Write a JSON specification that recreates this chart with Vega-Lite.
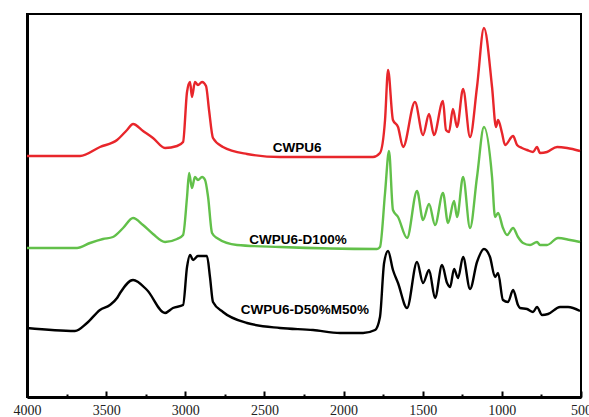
{
  "$schema": "https://vega.github.io/schema/vega-lite/v6.json",
  "width": 554,
  "height": 383,
  "autosize": "none",
  "padding": {"left": 27, "top": 14, "right": 8, "bottom": 20},
  "background": "white",
  "config": {"view": {"stroke": "black", "strokeWidth": 2}},
  "datasets": {
    "spectra": [
      {"s": "CWPU6", "wn": 4000, "v": 241}, {"s": "CWPU6", "wn": 3665, "v": 241}, {"s": "CWPU6", "wn": 3539, "v": 250}, {"s": "CWPU6", "wn": 3431, "v": 257}, {"s": "CWPU6", "wn": 3368, "v": 267}, {"s": "CWPU6", "wn": 3330, "v": 273}, {"s": "CWPU6", "wn": 3267, "v": 266}, {"s": "CWPU6", "wn": 3204, "v": 259}, {"s": "CWPU6", "wn": 3128, "v": 249}, {"s": "CWPU6", "wn": 3052, "v": 251}, {"s": "CWPU6", "wn": 3014, "v": 255}, {"s": "CWPU6", "wn": 2989, "v": 305}, {"s": "CWPU6", "wn": 2970, "v": 315}, {"s": "CWPU6", "wn": 2958, "v": 300}, {"s": "CWPU6", "wn": 2939, "v": 315}, {"s": "CWPU6", "wn": 2920, "v": 312}, {"s": "CWPU6", "wn": 2894, "v": 315}, {"s": "CWPU6", "wn": 2869, "v": 311}, {"s": "CWPU6", "wn": 2850, "v": 287}, {"s": "CWPU6", "wn": 2825, "v": 259}, {"s": "CWPU6", "wn": 2762, "v": 250}, {"s": "CWPU6", "wn": 2610, "v": 243}, {"s": "CWPU6", "wn": 2402, "v": 240}, {"s": "CWPU6", "wn": 1978, "v": 240}, {"s": "CWPU6", "wn": 1814, "v": 240}, {"s": "CWPU6", "wn": 1770, "v": 244}, {"s": "CWPU6", "wn": 1738, "v": 277}, {"s": "CWPU6", "wn": 1719, "v": 327}, {"s": "CWPU6", "wn": 1688, "v": 277}, {"s": "CWPU6", "wn": 1656, "v": 270}, {"s": "CWPU6", "wn": 1624, "v": 250}, {"s": "CWPU6", "wn": 1549, "v": 295}, {"s": "CWPU6", "wn": 1498, "v": 262}, {"s": "CWPU6", "wn": 1460, "v": 283}, {"s": "CWPU6", "wn": 1429, "v": 262}, {"s": "CWPU6", "wn": 1372, "v": 296}, {"s": "CWPU6", "wn": 1353, "v": 267}, {"s": "CWPU6", "wn": 1334, "v": 265}, {"s": "CWPU6", "wn": 1309, "v": 288}, {"s": "CWPU6", "wn": 1283, "v": 270}, {"s": "CWPU6", "wn": 1245, "v": 308}, {"s": "CWPU6", "wn": 1201, "v": 260}, {"s": "CWPU6", "wn": 1157, "v": 310}, {"s": "CWPU6", "wn": 1113, "v": 369}, {"s": "CWPU6", "wn": 1062, "v": 310}, {"s": "CWPU6", "wn": 1037, "v": 270}, {"s": "CWPU6", "wn": 1024, "v": 277}, {"s": "CWPU6", "wn": 999, "v": 264}, {"s": "CWPU6", "wn": 980, "v": 252}, {"s": "CWPU6", "wn": 929, "v": 261}, {"s": "CWPU6", "wn": 904, "v": 252}, {"s": "CWPU6", "wn": 873, "v": 249}, {"s": "CWPU6", "wn": 841, "v": 247}, {"s": "CWPU6", "wn": 803, "v": 245}, {"s": "CWPU6", "wn": 778, "v": 250}, {"s": "CWPU6", "wn": 759, "v": 244}, {"s": "CWPU6", "wn": 715, "v": 245}, {"s": "CWPU6", "wn": 651, "v": 250}, {"s": "CWPU6", "wn": 588, "v": 249}, {"s": "CWPU6", "wn": 506, "v": 246},
      {"s": "D100", "wn": 4000, "v": 149}, {"s": "D100", "wn": 3684, "v": 149}, {"s": "D100", "wn": 3602, "v": 154}, {"s": "D100", "wn": 3520, "v": 158}, {"s": "D100", "wn": 3457, "v": 160}, {"s": "D100", "wn": 3393, "v": 169}, {"s": "D100", "wn": 3330, "v": 179}, {"s": "D100", "wn": 3267, "v": 172}, {"s": "D100", "wn": 3204, "v": 163}, {"s": "D100", "wn": 3128, "v": 155}, {"s": "D100", "wn": 3052, "v": 158}, {"s": "D100", "wn": 3014, "v": 162}, {"s": "D100", "wn": 2989, "v": 200}, {"s": "D100", "wn": 2976, "v": 224}, {"s": "D100", "wn": 2958, "v": 209}, {"s": "D100", "wn": 2939, "v": 220}, {"s": "D100", "wn": 2920, "v": 217}, {"s": "D100", "wn": 2894, "v": 220}, {"s": "D100", "wn": 2875, "v": 217}, {"s": "D100", "wn": 2856, "v": 200}, {"s": "D100", "wn": 2831, "v": 164}, {"s": "D100", "wn": 2800, "v": 159}, {"s": "D100", "wn": 2673, "v": 152}, {"s": "D100", "wn": 2402, "v": 150}, {"s": "D100", "wn": 1789, "v": 148}, {"s": "D100", "wn": 1770, "v": 150}, {"s": "D100", "wn": 1738, "v": 204}, {"s": "D100", "wn": 1713, "v": 246}, {"s": "D100", "wn": 1688, "v": 187}, {"s": "D100", "wn": 1656, "v": 180}, {"s": "D100", "wn": 1599, "v": 159}, {"s": "D100", "wn": 1536, "v": 206}, {"s": "D100", "wn": 1498, "v": 177}, {"s": "D100", "wn": 1460, "v": 193}, {"s": "D100", "wn": 1422, "v": 172}, {"s": "D100", "wn": 1372, "v": 204}, {"s": "D100", "wn": 1340, "v": 174}, {"s": "D100", "wn": 1302, "v": 196}, {"s": "D100", "wn": 1283, "v": 180}, {"s": "D100", "wn": 1245, "v": 220}, {"s": "D100", "wn": 1201, "v": 169}, {"s": "D100", "wn": 1157, "v": 220}, {"s": "D100", "wn": 1113, "v": 270}, {"s": "D100", "wn": 1062, "v": 220}, {"s": "D100", "wn": 1043, "v": 180}, {"s": "D100", "wn": 1024, "v": 184}, {"s": "D100", "wn": 993, "v": 169}, {"s": "D100", "wn": 967, "v": 162}, {"s": "D100", "wn": 929, "v": 169}, {"s": "D100", "wn": 898, "v": 160}, {"s": "D100", "wn": 866, "v": 154}, {"s": "D100", "wn": 822, "v": 152}, {"s": "D100", "wn": 778, "v": 155}, {"s": "D100", "wn": 759, "v": 152}, {"s": "D100", "wn": 715, "v": 152}, {"s": "D100", "wn": 645, "v": 159}, {"s": "D100", "wn": 569, "v": 157}, {"s": "D100", "wn": 506, "v": 155},
      {"s": "D50M50", "wn": 4000, "v": 69}, {"s": "D50M50", "wn": 3697, "v": 66}, {"s": "D50M50", "wn": 3621, "v": 74}, {"s": "D50M50", "wn": 3539, "v": 87}, {"s": "D50M50", "wn": 3476, "v": 92}, {"s": "D50M50", "wn": 3431, "v": 99}, {"s": "D50M50", "wn": 3412, "v": 104}, {"s": "D50M50", "wn": 3330, "v": 117}, {"s": "D50M50", "wn": 3242, "v": 107}, {"s": "D50M50", "wn": 3128, "v": 84}, {"s": "D50M50", "wn": 3078, "v": 89}, {"s": "D50M50", "wn": 3014, "v": 92}, {"s": "D50M50", "wn": 2989, "v": 130}, {"s": "D50M50", "wn": 2970, "v": 142}, {"s": "D50M50", "wn": 2951, "v": 137}, {"s": "D50M50", "wn": 2920, "v": 141}, {"s": "D50M50", "wn": 2863, "v": 141}, {"s": "D50M50", "wn": 2844, "v": 120}, {"s": "D50M50", "wn": 2825, "v": 95}, {"s": "D50M50", "wn": 2762, "v": 85}, {"s": "D50M50", "wn": 2610, "v": 74}, {"s": "D50M50", "wn": 2402, "v": 69}, {"s": "D50M50", "wn": 2193, "v": 67}, {"s": "D50M50", "wn": 2022, "v": 64}, {"s": "D50M50", "wn": 1877, "v": 64}, {"s": "D50M50", "wn": 1801, "v": 67}, {"s": "D50M50", "wn": 1770, "v": 80}, {"s": "D50M50", "wn": 1744, "v": 134}, {"s": "D50M50", "wn": 1719, "v": 146}, {"s": "D50M50", "wn": 1688, "v": 127}, {"s": "D50M50", "wn": 1656, "v": 114}, {"s": "D50M50", "wn": 1599, "v": 89}, {"s": "D50M50", "wn": 1536, "v": 135}, {"s": "D50M50", "wn": 1498, "v": 114}, {"s": "D50M50", "wn": 1460, "v": 127}, {"s": "D50M50", "wn": 1422, "v": 99}, {"s": "D50M50", "wn": 1378, "v": 132}, {"s": "D50M50", "wn": 1346, "v": 114}, {"s": "D50M50", "wn": 1327, "v": 110}, {"s": "D50M50", "wn": 1302, "v": 128}, {"s": "D50M50", "wn": 1277, "v": 119}, {"s": "D50M50", "wn": 1245, "v": 140}, {"s": "D50M50", "wn": 1201, "v": 108}, {"s": "D50M50", "wn": 1157, "v": 135}, {"s": "D50M50", "wn": 1113, "v": 148}, {"s": "D50M50", "wn": 1075, "v": 140}, {"s": "D50M50", "wn": 1043, "v": 120}, {"s": "D50M50", "wn": 1024, "v": 124}, {"s": "D50M50", "wn": 993, "v": 97}, {"s": "D50M50", "wn": 961, "v": 95}, {"s": "D50M50", "wn": 929, "v": 107}, {"s": "D50M50", "wn": 898, "v": 92}, {"s": "D50M50", "wn": 885, "v": 89}, {"s": "D50M50", "wn": 841, "v": 88}, {"s": "D50M50", "wn": 803, "v": 85}, {"s": "D50M50", "wn": 778, "v": 90}, {"s": "D50M50", "wn": 746, "v": 82}, {"s": "D50M50", "wn": 708, "v": 83}, {"s": "D50M50", "wn": 632, "v": 90}, {"s": "D50M50", "wn": 582, "v": 90}, {"s": "D50M50", "wn": 506, "v": 86}
    ],
    "labels": [
      {"t": "CWPU6", "wn": 2294, "v": 249},
      {"t": "CWPU6-D100%", "wn": 2288, "v": 157},
      {"t": "CWPU6-D50%M50%", "wn": 2244, "v": 87}
    ]
  },
  "layer": [
    {
      "data": {"name": "spectra"},
      "mark": {"type": "line", "strokeWidth": 2.4, "interpolate": "monotone"},
      "encoding": {
        "x": {"field": "wn", "type": "quantitative",
          "scale": {"domain": [500, 4000], "reverse": true, "nice": false, "zero": false},
          "axis": {"orient": "bottom", "title": null, "values": [4000, 3500, 3000, 2500, 2000, 1500, 1000, 500],
            "format": "d", "grid": false, "tickSize": -6, "tickWidth": 2, "tickColor": "black",
            "domainColor": "black", "domainWidth": 3, "labelFont": "Liberation Serif", "labelFontSize": 14,
            "labelColor": "#222", "labelPadding": 12, "labelFlush": false, "labelOverlap": false}},
        "y": {"field": "v", "type": "quantitative",
          "scale": {"domain": [0, 383], "nice": false},
          "axis": {"title": null, "labels": false, "ticks": false, "grid": false, "domainColor": "black", "domainWidth": 3}},
        "color": {"field": "s", "type": "nominal",
          "scale": {"domain": ["CWPU6", "D100", "D50M50"], "range": ["#e8262b", "#62c04a", "#000000"]},
          "legend": null},
        "order": {"field": "wn", "type": "quantitative"}
      }
    },
    {
      "data": {"name": "labels"},
      "mark": {"type": "text", "font": "Liberation Sans", "fontWeight": "bold", "fontSize": 13.5, "color": "black", "align": "center", "baseline": "middle"},
      "encoding": {
        "x": {"field": "wn", "type": "quantitative",
          "axis": {"orient": "bottom", "title": null, "values": [3750, 3250, 2750, 2250, 1750, 1250, 750],
            "labels": false, "domain": false, "grid": false, "tickSize": -3, "tickWidth": 2, "tickColor": "black"}},
        "y": {"field": "v", "type": "quantitative"},
        "text": {"field": "t"}
      }
    }
  ],
  "resolve": {"axis": {"x": "independent"}}
}
